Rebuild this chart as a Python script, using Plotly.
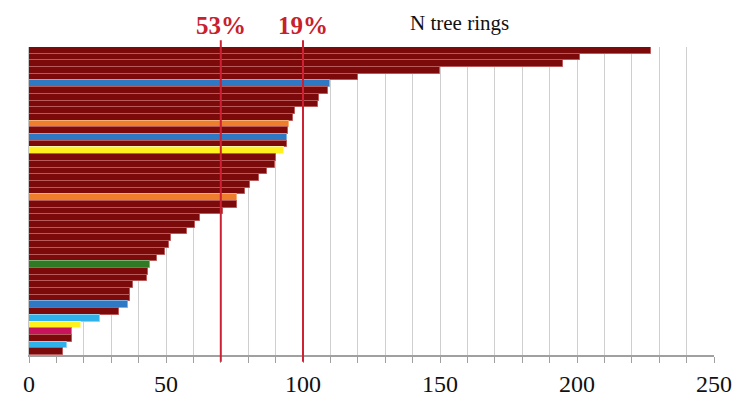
import plotly.graph_objects as go

# Bars listed from top to bottom
values = [227, 201, 195, 150, 120, 110, 109, 106, 105.6, 97, 96.5, 95, 94.6, 94, 94,
          93, 90, 89.8, 87, 84, 80.7, 79, 76, 75.8, 70.7, 62.4, 60.6, 57.8, 51.7, 51,
          49.6, 46.6, 44, 43.5, 43, 38, 37, 37, 36, 33, 26, 19, 15.6, 15.6, 13.7, 12.5]
groups = ["r", "r", "r", "r", "r", "b", "r", "r", "r", "r", "r", "o", "r", "b", "r",
          "y", "r", "r", "r", "r", "r", "r", "o", "r", "r", "r", "r", "r", "r", "r",
          "r", "r", "g", "r", "r", "r", "r", "r", "b", "r", "c", "y", "m", "r", "c", "r"]
threshold_values = [70, 100]
threshold_labels = ["<b>53%</b>", "<b>19%</b>"]
x_ticks = [0, 50, 100, 150, 200, 250]

fill = {"r": "#7d0a0a", "b": "#2f78c4", "o": "#ee7d2c", "y": "#fff01e",
        "g": "#2f7a22", "c": "#2fb2ea", "m": "#c8145c"}
edge = {"r": "#b85a5a", "b": "#7fb0e0", "o": "#f5b07a", "y": "#fff7a0",
        "g": "#7fae74", "c": "#8ad4f4", "m": "#e070a0"}

idx = list(range(len(values)))
fig = go.Figure(go.Bar(
    x=values, y=idx, orientation="h",
    marker=dict(color=[fill[g] for g in groups],
                line=dict(color=[edge[g] for g in groups], width=1.0)),
    width=1.0, hoverinfo="x",
))

shapes = []
annotations = []
for v, lab in zip(threshold_values, threshold_labels):
    shapes.append(dict(type="line", xref="x", yref="paper", x0=v, x1=v,
                       y0=-0.022, y1=1.022, line=dict(color="#cc2233", width=2)))
    annotations.append(dict(x=v, xref="x", y=1.069, yref="paper", text=lab,
                            showarrow=False, yanchor="middle",
                            font=dict(family="Liberation Serif", size=25, color="#c8202c")))
annotations.append(dict(x=0.628, xref="paper", y=1.078, yref="paper",
                        text="N tree rings", showarrow=False, yanchor="middle",
                        font=dict(family="Liberation Serif", size=21, color="#111111")))

fig.update_layout(
    width=749, height=401,
    margin=dict(l=21, r=43, t=39, b=43),
    plot_bgcolor="white", paper_bgcolor="white",
    showlegend=False, bargap=0,
    shapes=shapes, annotations=annotations,
    xaxis=dict(range=[0, 250], tickvals=x_ticks, ticktext=[str(t) for t in x_ticks],
               ticks="outside", ticklen=6, tickcolor="#a0a0a0",
               showgrid=True, gridcolor="#cfcfcf", gridwidth=1.2,
               minor=dict(dtick=10, tick0=0, ticks="outside", ticklen=6,
                          tickcolor="#a0a0a0", showgrid=True, gridcolor="#cfcfcf",
                          gridwidth=1.2),
               showline=True, linecolor="#a0a0a0", linewidth=1.5,
               zeroline=False,
               tickfont=dict(family="Liberation Serif", size=24, color="#111111")),
    yaxis=dict(range=[len(values) - 0.5, -0.5], showticklabels=False,
               showgrid=False, zeroline=False, ticks="",
               showline=True, linecolor="#c8c8c8", linewidth=1),
)

fig.write_html("out.html")
